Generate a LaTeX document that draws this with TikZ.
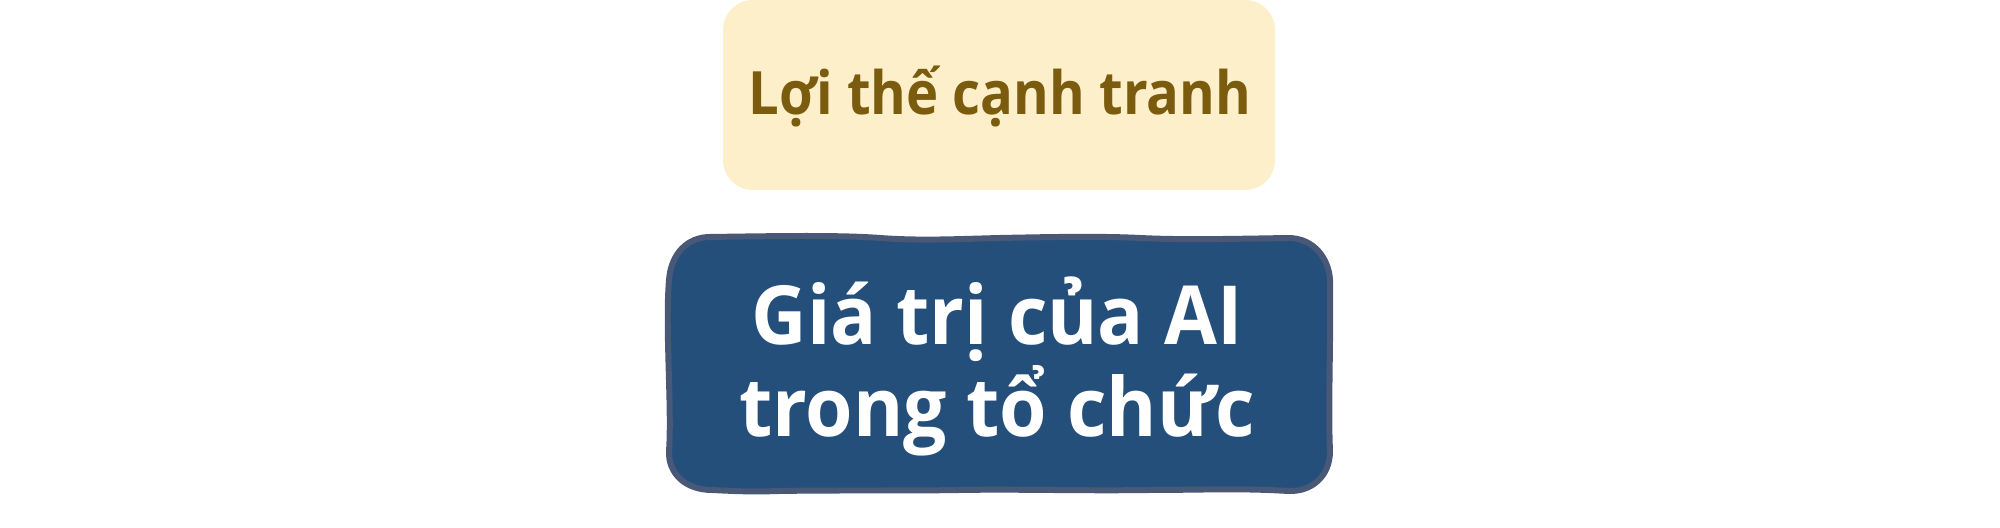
\documentclass[tikz,border=0pt]{standalone}
\usepackage{fontspec}
\setmainfont{Open Sans}
\newfontfamily\goalfont{Open Sans}[FakeStretch=0.91]
\newfontfamily\corefont{Open Sans}[FakeStretch=0.94]
\definecolor{topfill}{HTML}{FDEFC9}
\definecolor{toptext}{HTML}{7B5B0E}
\definecolor{bluefill}{HTML}{244F7A}
\definecolor{blueedge}{HTML}{4A5878}
\tikzset{
  goalbox/.style={fill=topfill, rounded corners=0.3cm},
  goaltext/.style={text=toptext, font=\goalfont\fontsize{17}{19}\selectfont\bfseries},
  corebox/.style={fill=bluefill, draw=blueedge, line width=1.7pt, line join=round},
  coretext/.style={text=white, align=center, font=\corefont\fontsize{23.2}{26.2}\selectfont\bfseries}
}
\begin{document}
\begin{tikzpicture}[x=0.01cm,y=0.01cm]
\useasboundingbox (0,0) rectangle (2000,528);
\fill[white] (0,0) rectangle (2000,528);
\path[goalbox] (723,528) rectangle (1275,338);
\node[goaltext, anchor=base] (goal) at (1000,413) {Lợi thế cạnh tranh};
\path[corebox] (710,291)
  .. controls (780,292) and (840,293) .. (880,290)
  .. controls (920,287) and (960,289) .. (1000,290)
  .. controls (1050,291) and (1100,292) .. (1140,290)
  .. controls (1180,288) and (1230,289) .. (1288,290)
  .. controls (1315,290) and (1329,268) .. (1330,248)
  .. controls (1331,190) and (1328,120) .. (1330,77)
  .. controls (1330,52) and (1312,36) .. (1288,37)
  .. controls (1240,40) and (1200,38) .. (1150,38)
  .. controls (1080,37) and (1020,39) .. (960,38)
  .. controls (900,37) and (840,38) .. (780,37)
  .. controls (750,36) and (732,37) .. (712,38)
  .. controls (685,38) and (668,55) .. (669,77)
  .. controls (672,120) and (665,200) .. (669,248)
  .. controls (671,275) and (688,291) .. (710,291) -- cycle;
\node[coretext, anchor=base] (core) at (997,91) {Giá trị của AI\\trong tổ chức};
\end{tikzpicture}
\end{document}
